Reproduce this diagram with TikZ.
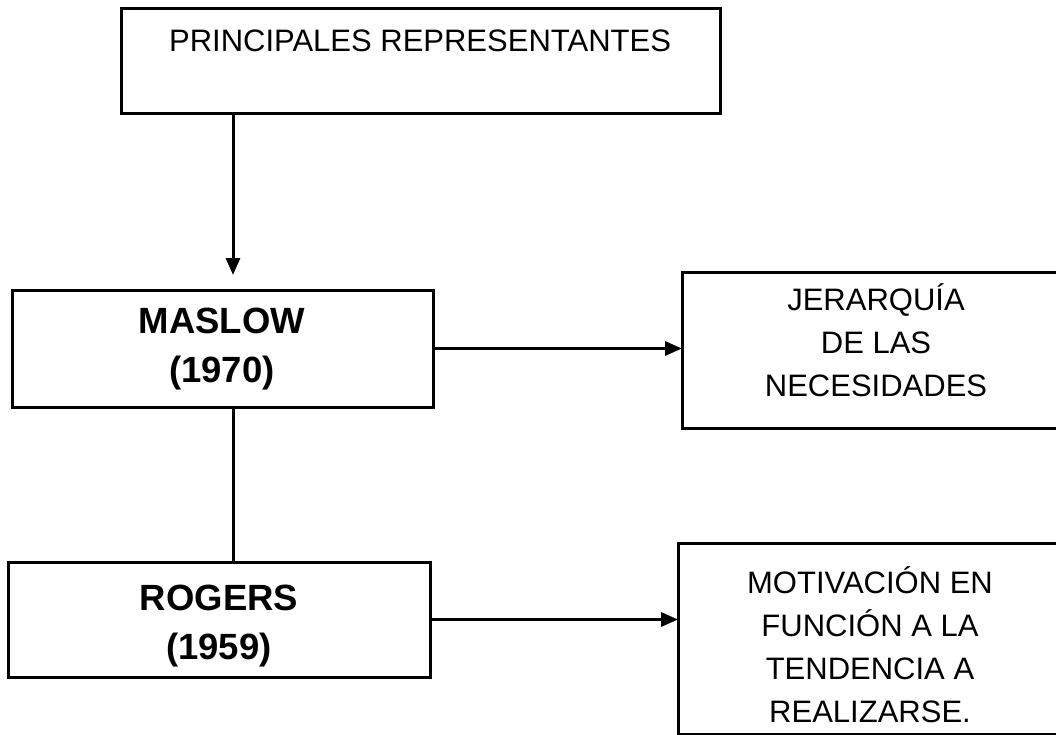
\documentclass[tikz,border=0pt]{standalone}
\usepackage{fontspec}
\setmainfont{Liberation Sans}
\usetikzlibrary{arrows.meta}
\begin{document}
\begin{tikzpicture}[x=1pt,y=-1pt,
  box/.style={draw=black, line width=3pt, rectangle, inner sep=0pt, outer sep=0pt, anchor=north west},
  txt/.style={align=center, inner sep=0pt, font=\fontsize{31}{43}\selectfont},
  btxt/.style={align=center, inner sep=0pt, font=\fontsize{36.5}{49}\selectfont\bfseries},
  arr/.style={line width=3pt, -{Triangle[length=17pt,width=14pt]}},
  conn/.style={line width=3pt}]
\useasboundingbox (0,0) rectangle (1056,735);
\clip (0,0) rectangle (1056,735);
\fill[white] (0,0) rectangle (1056,735);
% boxes
\node[box, minimum width=599pt, minimum height=105pt] (top) at (121,9) {};
\node[box, minimum width=421pt, minimum height=117pt] (maslow) at (12,290) {};
\node[box, minimum width=422pt, minimum height=115pt] (rogers) at (8,562) {};
\node[box, minimum width=500pt, minimum height=156pt] (jer) at (682,272) {};
\node[box, minimum width=500pt, minimum height=191pt] (mot) at (678,543) {};
% texts
\node[txt] (toptext) at (420,41) {PRINCIPALES REPRESENTANTES};
\node[btxt] (maslowtext) at (222,349) {MASLOW\\(1970)};
\node[btxt] (rogerstext) at (219,626) {ROGERS\\(1959)};
\node[txt] (jertext) at (876,340) {JERARQUÍA\\DE LAS\\NECESIDADES};
\node[txt] (mottext) at (870,645) {MOTIVACIÓN EN\\FUNCIÓN A LA\\TENDENCIA A\\REALIZARSE.};
% connectors
\coordinate (ax) at (233,0);
\draw[arr] (top.south -| ax) -- ([yshift=15pt]maslow.north -| ax);
\draw[conn] (maslow.south -| ax) -- (rogers.north -| ax);
\draw[arr] (maslow.east) -- (maslow.east -| jer.west);
\draw[arr] (rogers.east) -- (rogers.east -| mot.west);
\end{tikzpicture}
\end{document}
